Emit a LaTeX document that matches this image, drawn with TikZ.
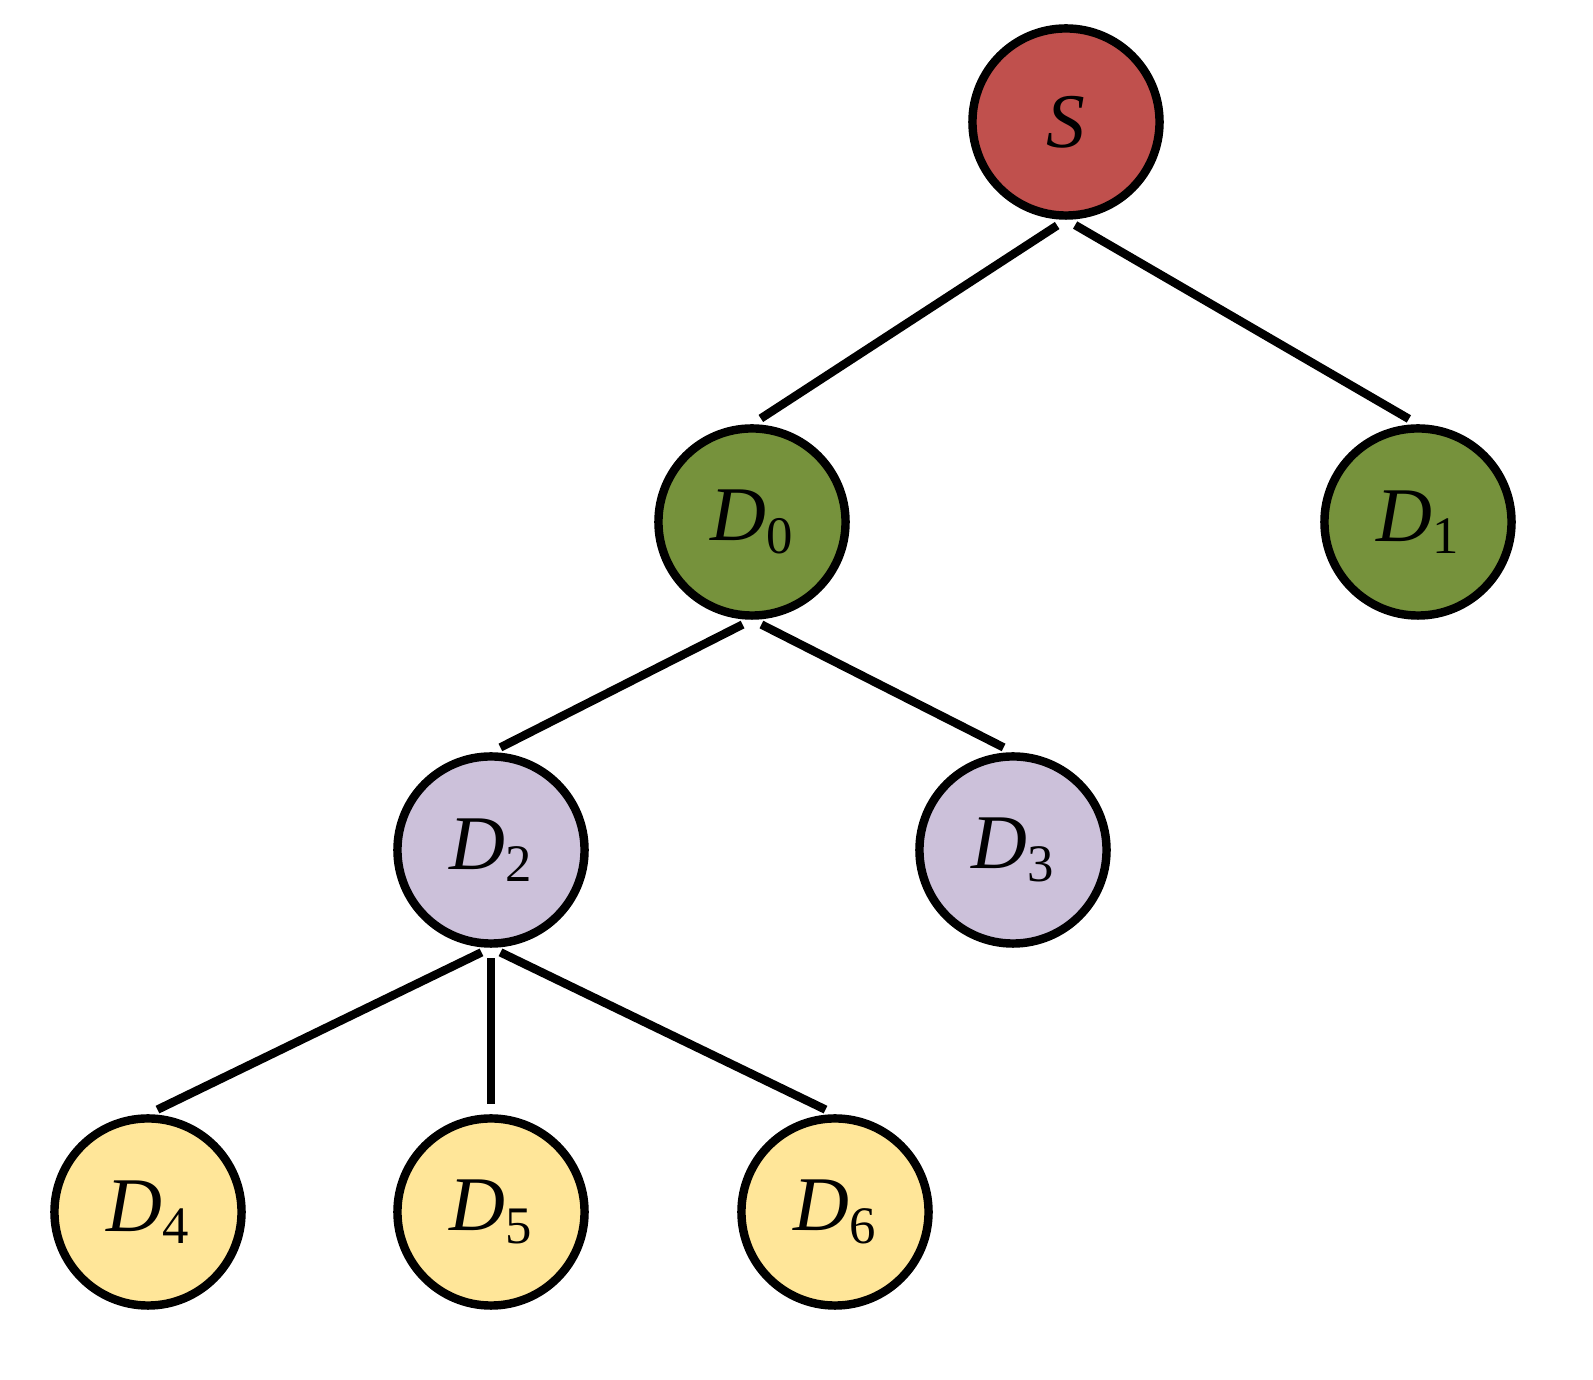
\documentclass[tikz,border=0pt]{standalone}
\usepackage{fontspec}
\setmainfont{Liberation Serif}
\usetikzlibrary{positioning}
\definecolor{rootred}{HTML}{C0504D}
\definecolor{levgreen}{HTML}{76923C}
\definecolor{levlilac}{HTML}{CCC1DA}
\definecolor{levyellow}{HTML}{FFE699}
\newcommand{\dlab}[1]{\textit{D}\raisebox{-0.35ex}{\fontsize{15pt}{15pt}\selectfont #1}}
\begin{document}
\begin{tikzpicture}[x=0.01cm,y=-0.01cm,
    tnode/.style={circle, draw=black, line width=2.4pt, minimum size=1.87cm,
                  inner sep=0pt, font=\fontsize{22pt}{22pt}\selectfont},
    tedge/.style={line width=2.4pt, black, shorten <=3pt, shorten >=3pt}
]
\useasboundingbox (0,0) rectangle (1593,1380);
% Root
\node[tnode, fill=rootred] (S) at (1066,122) {\textit{S}};
% Level one
\node[tnode, fill=levgreen] (D0) at (752,522) {\dlab{0}};
\node[tnode, fill=levgreen] (D1) at (1418,522) {\dlab{1}};
% Level two
\node[tnode, fill=levlilac] (D2) at (491,850) {\dlab{2}};
\node[tnode, fill=levlilac] (D3) at (1013,850) {\dlab{3}};
% Leaves
\node[tnode, fill=levyellow] (D4) at (148,1212) {\dlab{4}};
\node[tnode, fill=levyellow] (D5) at (491,1212) {\dlab{5}};
\node[tnode, fill=levyellow] (D6) at (835,1212) {\dlab{6}};
% Edges
\draw[tedge] (S.south) -- (D0.north);
\draw[tedge] (S.south) -- (D1.north);
\draw[tedge] (D0.south) -- (D2.north);
\draw[tedge] (D0.south) -- (D3.north);
\draw[tedge] (D2.south) -- (D4.north);
\draw[tedge] (D2.south) -- (D5.north);
\draw[tedge] (D2.south) -- (D6.north);
\end{tikzpicture}
\end{document}
